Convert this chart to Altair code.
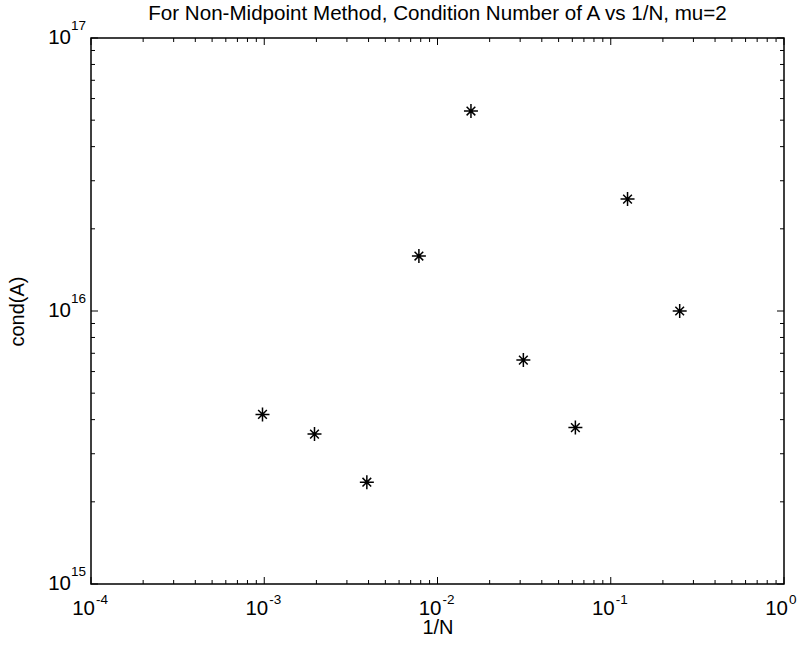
import altair as alt
import pandas as pd

# ---- data ----
inv_N = [0.000977, 0.00195, 0.00391, 0.00781, 0.0156, 0.0313, 0.0625, 0.125, 0.25]
cond_A = [4.18e15, 3.54e15, 2.36e15, 1.59e16, 5.40e16, 6.61e15, 3.74e15, 2.57e16, 1.00e16]

x_major = [1e-4, 1e-3, 1e-2, 1e-1, 1e0]
x_exp = ["-4", "-3", "-2", "-1", "0"]
y_major = [1e15, 1e16, 1e17]
y_exp = ["15", "16", "17"]
x_minor = [m * d for d in [1e-4, 1e-3, 1e-2, 1e-1] for m in range(2, 10)]
y_minor = [m * d for d in [1e15, 1e16] for m in range(2, 10)]

W, H = 693, 546
FONT = "Liberation Sans"
MAJ, MIN = 7, 4

pts = pd.DataFrame({"x": inv_N, "y": cond_A})
xmaj = pd.DataFrame({"v": x_major, "e": x_exp})
ymaj = pd.DataFrame({"v": y_major, "e": y_exp})
xmin_df = pd.DataFrame({"v": x_minor})
ymin_df = pd.DataFrame({"v": y_minor})

xs = alt.Scale(type="log", domain=[1e-4, 1], nice=False)
ys = alt.Scale(type="log", domain=[1e15, 1e17], nice=False)

x_axis = alt.Axis(labels=False, ticks=False, domain=False, grid=False,
                  titlePadding=33, titleFontSize=20, titleFont=FONT,
                  titleFontWeight="normal", titleColor="black")
y_axis = alt.Axis(labels=False, ticks=False, domain=False, grid=False,
                  titlePadding=64, titleFontSize=20, titleFont=FONT,
                  titleFontWeight="normal", titleColor="black")

X = lambda f: alt.X(f, type="quantitative", scale=xs, axis=x_axis, title="1/N")
Y = lambda f: alt.Y(f, type="quantitative", scale=ys, axis=y_axis, title="cond(A)")

star = "M-1,0L1,0M0,-1L0,1M-0.62,-0.62L0.62,0.62M-0.62,0.62L0.62,-0.62"

points = alt.Chart(pts).mark_point(
    shape=star, size=196, filled=False, color="black", strokeWidth=1.5, opacity=1
).encode(x=X("x"), y=Y("y"))

def xticks(df, L):
    b = alt.Chart(df).mark_rule(color="black", strokeWidth=1).encode(
        x=X("v"), y=alt.value(H), y2=alt.value(H - L))
    t = alt.Chart(df).mark_rule(color="black", strokeWidth=1).encode(
        x=X("v"), y=alt.value(0), y2=alt.value(L))
    return [b, t]

def yticks(df, L):
    l = alt.Chart(df).mark_rule(color="black", strokeWidth=1).encode(
        y=Y("v"), x=alt.value(0), x2=alt.value(L))
    r = alt.Chart(df).mark_rule(color="black", strokeWidth=1).encode(
        y=Y("v"), x=alt.value(W), x2=alt.value(W - L))
    return [l, r]

xbase = alt.Chart(xmaj).mark_text(
    font=FONT, fontSize=20.5, color="black", align="right", baseline="alphabetic",
    dx=4, dy=31).encode(x=X("v"), y=alt.value(H), text=alt.value("10"))
xsup = alt.Chart(xmaj).mark_text(
    font=FONT, fontSize=13.5, color="black", align="left", baseline="alphabetic",
    dx=5, dy=20).encode(x=X("v"), y=alt.value(H), text="e:N")
ybase = alt.Chart(ymaj).mark_text(
    font=FONT, fontSize=20.5, color="black", align="right", baseline="alphabetic",
    dy=6).encode(y=Y("v"), x=alt.value(-20), text=alt.value("10"))
ysup = alt.Chart(ymaj).mark_text(
    font=FONT, fontSize=13.5, color="black", align="left", baseline="alphabetic",
    dy=-8).encode(y=Y("v"), x=alt.value(-20), text="e:N")

layers = ([points] + xticks(xmaj, MAJ) + xticks(xmin_df, MIN)
          + yticks(ymaj, MAJ) + yticks(ymin_df, MIN) + [xbase, xsup, ybase, ysup])

chart = alt.layer(*layers).properties(
    width=W, height=H,
    title=alt.TitleParams(
        "For Non-Midpoint Method, Condition Number of A vs 1/N, mu=2",
        font=FONT, fontSize=20.6, fontWeight="normal", color="black",
        anchor="middle", frame="group", offset=-6),
    autosize=alt.AutoSizeParams(type="none"),
    padding={"left": 91, "top": 38, "right": 18, "bottom": 67},
    background="white",
).configure_view(stroke="black", strokeWidth=1.5)

chart.save("out.html", embed_options={"renderer": "svg", "actions": False})
